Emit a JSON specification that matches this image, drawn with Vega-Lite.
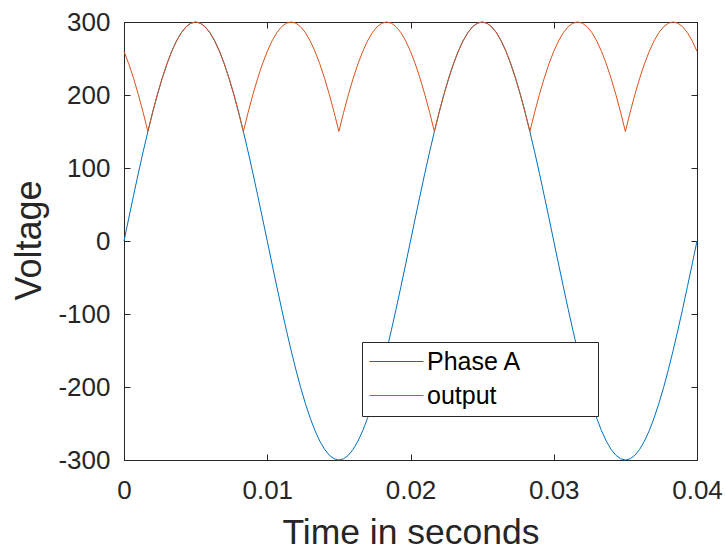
{
  "$schema": "https://vega.github.io/schema/vega-lite/v6.json",
  "width": 573,
  "height": 438,
  "autosize": "none",
  "padding": {"left": 124, "top": 22, "right": 29, "bottom": 90},
  "background": "white",
  "data": {"values": [
    {"t": 0, "a": 0, "o": 259.81},
    {"t": 0.000333, "a": 31.36, "o": 242.71},
    {"t": 0.000667, "a": 62.37, "o": 222.94},
    {"t": 0.001, "a": 92.71, "o": 200.74},
    {"t": 0.001333, "a": 122.02, "o": 176.34},
    {"t": 0.001667, "a": 150, "o": 150},
    {"t": 0.002, "a": 176.34, "o": 176.34},
    {"t": 0.002333, "a": 200.74, "o": 200.74},
    {"t": 0.002667, "a": 222.94, "o": 222.94},
    {"t": 0.003, "a": 242.71, "o": 242.71},
    {"t": 0.003333, "a": 259.81, "o": 259.81},
    {"t": 0.003667, "a": 274.06, "o": 274.06},
    {"t": 0.004, "a": 285.32, "o": 285.32},
    {"t": 0.004333, "a": 293.44, "o": 293.44},
    {"t": 0.004667, "a": 298.36, "o": 298.36},
    {"t": 0.005, "a": 300, "o": 300},
    {"t": 0.005333, "a": 298.36, "o": 298.36},
    {"t": 0.005667, "a": 293.44, "o": 293.44},
    {"t": 0.006, "a": 285.32, "o": 285.32},
    {"t": 0.006333, "a": 274.06, "o": 274.06},
    {"t": 0.006667, "a": 259.81, "o": 259.81},
    {"t": 0.007, "a": 242.71, "o": 242.71},
    {"t": 0.007333, "a": 222.94, "o": 222.94},
    {"t": 0.007667, "a": 200.74, "o": 200.74},
    {"t": 0.008, "a": 176.34, "o": 176.34},
    {"t": 0.008333, "a": 150, "o": 150},
    {"t": 0.008667, "a": 122.02, "o": 176.34},
    {"t": 0.009, "a": 92.71, "o": 200.74},
    {"t": 0.009333, "a": 62.37, "o": 222.94},
    {"t": 0.009667, "a": 31.36, "o": 242.71},
    {"t": 0.01, "a": 0, "o": 259.81},
    {"t": 0.010333, "a": -31.36, "o": 274.06},
    {"t": 0.010667, "a": -62.37, "o": 285.32},
    {"t": 0.011, "a": -92.71, "o": 293.44},
    {"t": 0.011333, "a": -122.02, "o": 298.36},
    {"t": 0.011667, "a": -150, "o": 300},
    {"t": 0.012, "a": -176.34, "o": 298.36},
    {"t": 0.012333, "a": -200.74, "o": 293.44},
    {"t": 0.012667, "a": -222.94, "o": 285.32},
    {"t": 0.013, "a": -242.71, "o": 274.06},
    {"t": 0.013333, "a": -259.81, "o": 259.81},
    {"t": 0.013667, "a": -274.06, "o": 242.71},
    {"t": 0.014, "a": -285.32, "o": 222.94},
    {"t": 0.014333, "a": -293.44, "o": 200.74},
    {"t": 0.014667, "a": -298.36, "o": 176.34},
    {"t": 0.015, "a": -300, "o": 150},
    {"t": 0.015333, "a": -298.36, "o": 176.34},
    {"t": 0.015667, "a": -293.44, "o": 200.74},
    {"t": 0.016, "a": -285.32, "o": 222.94},
    {"t": 0.016333, "a": -274.06, "o": 242.71},
    {"t": 0.016667, "a": -259.81, "o": 259.81},
    {"t": 0.017, "a": -242.71, "o": 274.06},
    {"t": 0.017333, "a": -222.94, "o": 285.32},
    {"t": 0.017667, "a": -200.74, "o": 293.44},
    {"t": 0.018, "a": -176.34, "o": 298.36},
    {"t": 0.018333, "a": -150, "o": 300},
    {"t": 0.018667, "a": -122.02, "o": 298.36},
    {"t": 0.019, "a": -92.71, "o": 293.44},
    {"t": 0.019333, "a": -62.37, "o": 285.32},
    {"t": 0.019667, "a": -31.36, "o": 274.06},
    {"t": 0.02, "a": 0, "o": 259.81},
    {"t": 0.020333, "a": 31.36, "o": 242.71},
    {"t": 0.020667, "a": 62.37, "o": 222.94},
    {"t": 0.021, "a": 92.71, "o": 200.74},
    {"t": 0.021333, "a": 122.02, "o": 176.34},
    {"t": 0.021667, "a": 150, "o": 150},
    {"t": 0.022, "a": 176.34, "o": 176.34},
    {"t": 0.022333, "a": 200.74, "o": 200.74},
    {"t": 0.022667, "a": 222.94, "o": 222.94},
    {"t": 0.023, "a": 242.71, "o": 242.71},
    {"t": 0.023333, "a": 259.81, "o": 259.81},
    {"t": 0.023667, "a": 274.06, "o": 274.06},
    {"t": 0.024, "a": 285.32, "o": 285.32},
    {"t": 0.024333, "a": 293.44, "o": 293.44},
    {"t": 0.024667, "a": 298.36, "o": 298.36},
    {"t": 0.025, "a": 300, "o": 300},
    {"t": 0.025333, "a": 298.36, "o": 298.36},
    {"t": 0.025667, "a": 293.44, "o": 293.44},
    {"t": 0.026, "a": 285.32, "o": 285.32},
    {"t": 0.026333, "a": 274.06, "o": 274.06},
    {"t": 0.026667, "a": 259.81, "o": 259.81},
    {"t": 0.027, "a": 242.71, "o": 242.71},
    {"t": 0.027333, "a": 222.94, "o": 222.94},
    {"t": 0.027667, "a": 200.74, "o": 200.74},
    {"t": 0.028, "a": 176.34, "o": 176.34},
    {"t": 0.028333, "a": 150, "o": 150},
    {"t": 0.028667, "a": 122.02, "o": 176.34},
    {"t": 0.029, "a": 92.71, "o": 200.74},
    {"t": 0.029333, "a": 62.37, "o": 222.94},
    {"t": 0.029667, "a": 31.36, "o": 242.71},
    {"t": 0.03, "a": 0, "o": 259.81},
    {"t": 0.030333, "a": -31.36, "o": 274.06},
    {"t": 0.030667, "a": -62.37, "o": 285.32},
    {"t": 0.031, "a": -92.71, "o": 293.44},
    {"t": 0.031333, "a": -122.02, "o": 298.36},
    {"t": 0.031667, "a": -150, "o": 300},
    {"t": 0.032, "a": -176.34, "o": 298.36},
    {"t": 0.032333, "a": -200.74, "o": 293.44},
    {"t": 0.032667, "a": -222.94, "o": 285.32},
    {"t": 0.033, "a": -242.71, "o": 274.06},
    {"t": 0.033333, "a": -259.81, "o": 259.81},
    {"t": 0.033667, "a": -274.06, "o": 242.71},
    {"t": 0.034, "a": -285.32, "o": 222.94},
    {"t": 0.034333, "a": -293.44, "o": 200.74},
    {"t": 0.034667, "a": -298.36, "o": 176.34},
    {"t": 0.035, "a": -300, "o": 150},
    {"t": 0.035333, "a": -298.36, "o": 176.34},
    {"t": 0.035667, "a": -293.44, "o": 200.74},
    {"t": 0.036, "a": -285.32, "o": 222.94},
    {"t": 0.036333, "a": -274.06, "o": 242.71},
    {"t": 0.036667, "a": -259.81, "o": 259.81},
    {"t": 0.037, "a": -242.71, "o": 274.06},
    {"t": 0.037333, "a": -222.94, "o": 285.32},
    {"t": 0.037667, "a": -200.74, "o": 293.44},
    {"t": 0.038, "a": -176.34, "o": 298.36},
    {"t": 0.038333, "a": -150, "o": 300},
    {"t": 0.038667, "a": -122.02, "o": 298.36},
    {"t": 0.039, "a": -92.71, "o": 293.44},
    {"t": 0.039333, "a": -62.37, "o": 285.32},
    {"t": 0.039667, "a": -31.36, "o": 274.06},
    {"t": 0.04, "a": 0, "o": 259.81}
  ]},
  "config": {
    "view": {"stroke": null},
    "font": "Liberation Sans",
    "axis": {
      "grid": false,
      "domainColor": "#262626",
      "domainWidth": 1,
      "tickColor": "#262626",
      "tickWidth": 1,
      "tickSize": -6,
      "labelColor": "#262626",
      "labelFont": "Liberation Sans",
      "labelFontSize": 26,
      "labelOverlap": false,
      "labelFlush": false,
      "titleColor": "#262626",
      "titleFont": "Liberation Sans",
      "titleFontSize": 35.5,
      "titleFontWeight": "normal"
    },
    "legend": {
      "labelFont": "Liberation Sans",
      "labelFontSize": 25,
      "labelColor": "#000000"
    }
  },
  "resolve": {"axis": {"x": "independent", "y": "independent"}},
  "layer": [
    {
      "mark": {"type": "line", "strokeWidth": 1},
      "encoding": {
        "x": {
          "field": "t", "type": "quantitative",
          "scale": {"domain": [0, 0.04], "nice": false, "zero": false},
          "axis": {
            "orient": "bottom",
            "values": [0, 0.01, 0.02, 0.03, 0.04],
            "labelExpr": "toString(datum.value)",
            "labelPadding": 23,
            "title": "Time in seconds",
            "titleX": 286.5,
            "titleY": 83,
            "titleAlign": "center",
            "titleBaseline": "alphabetic"
          }
        },
        "y": {
          "field": "a", "type": "quantitative",
          "scale": {"domain": [-300, 300], "nice": false, "zero": false},
          "axis": {
            "orient": "left",
            "values": [-300, -200, -100, 0, 100, 200, 300],
            "labelExpr": "toString(datum.value)",
            "labelPadding": 20,
            "title": "Voltage",
            "titleFontSize": 36,
            "titleAngle": -90,
            "titleX": -95,
            "titleY": 218,
            "titleAlign": "center",
            "titleBaseline": "middle"
          }
        },
        "color": {
          "datum": "Phase A", "type": "nominal",
          "scale": {"domain": ["Phase A", "output"], "range": ["#0072BD", "#D95319"]},
          "legend": {
            "title": null,
            "orient": "none",
            "legendX": 238,
            "legendY": 320,
            "padding": 7,
            "strokeColor": "#262626",
            "fillColor": "#ffffff",
            "symbolType": "stroke",
            "symbolSize": 2916,
            "symbolStrokeWidth": 1,
            "clipHeight": 25,
            "rowPadding": 8,
            "labelOffset": 3,
            "labelLimit": 300,
            "labelExpr": "datum.label + '          \u200b'"
          }
        }
      }
    },
    {
      "mark": {"type": "line", "strokeWidth": 1},
      "encoding": {
        "x": {"field": "t", "type": "quantitative", "axis": null},
        "y": {"field": "o", "type": "quantitative", "axis": null},
        "color": {"datum": "output", "type": "nominal"}
      }
    },
    {
      "mark": {"type": "line", "opacity": 0},
      "encoding": {
        "x": {
          "field": "t", "type": "quantitative",
          "axis": {"orient": "top", "values": [0, 0.01, 0.02, 0.03, 0.04], "labels": false, "title": null}
        },
        "y": {
          "field": "a", "type": "quantitative",
          "axis": {"orient": "right", "values": [-300, -200, -100, 0, 100, 200, 300], "labels": false, "title": null}
        }
      }
    }
  ]
}
